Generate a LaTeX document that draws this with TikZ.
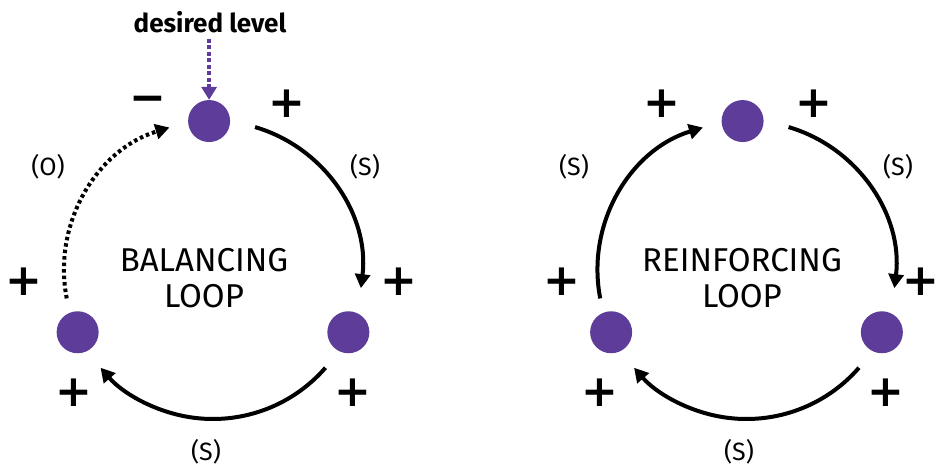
\documentclass[tikz,border=0pt]{standalone}
\usepackage{fontspec}
\setmainfont{Fira Sans}
\newfontfamily\symf{DejaVu Sans}
\usetikzlibrary{arrows.meta}
\definecolor{loopviolet}{RGB}{94,60,153}
\tikzset{
  var/.style={circle,fill=loopviolet,minimum size=42pt,inner sep=0pt},
  sign/.style={inner sep=0pt,font=\symf\bfseries\fontsize{44}{44}\selectfont},
  paren/.style={inner sep=0pt,font=\fontsize{25}{27}\selectfont},
  title/.style={inner sep=0pt,align=center,font=\fontsize{33}{36}\selectfont},
  link/.style={line width=4pt,-{Triangle[length=14pt,width=15pt]}},
  olink/.style={link,dash pattern=on 3.5pt off 3pt},
}
\begin{document}
\begin{tikzpicture}[x=1pt,y=1pt]
\useasboundingbox (0,0) rectangle (938,469);
% ---------- balancing loop ----------
\coordinate (cL) at (213,199);
\node[var] (L1) at ([shift={(91.5:149pt)}]cL) {};
\node[var] (L2) at ([shift={(-24.7:149pt)}]cL) {};
\node[var] (L3) at ([shift={(204.7:149pt)}]cL) {};
\draw[link] ([shift={(73.6:149pt)}]cL) arc[start angle=73.6,end angle=-7,radius=149pt];
\draw[link] ([shift={(-41:149pt)}]cL) arc[start angle=-41,end angle=-139,radius=149pt];
\draw[olink] ([shift={(191:149pt)}]cL) arc[start angle=191,end angle=107,radius=149pt];
\node[inner sep=0pt,font=\bfseries\fontsize{26}{28}\selectfont] (des) at (210,447) {desired level};
\draw[loopviolet,line width=3.5pt,dash pattern=on 4pt off 2.5pt,-{Triangle[length=13pt,width=15pt]}] (des.south -| L1) ++(0,-6) coordinate (dtop) -- (L1.north);
\node[sign] at (148,365) {−};
\node[sign] at (287,365) {+};
\node[paren] at (48,302) {(O)};
\node[paren] at (365,302) {(S)};
\node[title] at (204,191) {BALANCING\\LOOP};
\node[sign] at (24,187) {+};
\node[sign] at (399,187) {+};
\node[sign] at (74,76) {+};
\node[sign] at (353,76) {+};
\node[paren] at (206,17) {(S)};
% ---------- reinforcing loop ----------
\coordinate (cR) at (746.5,199);
\node[var] (R1) at ([shift={(91.5:149pt)}]cR) {};
\node[var] (R2) at ([shift={(-24.7:149pt)}]cR) {};
\node[var] (R3) at ([shift={(204.7:149pt)}]cR) {};
\draw[link] ([shift={(73.6:149pt)}]cR) arc[start angle=73.6,end angle=-7,radius=149pt];
\draw[link] ([shift={(-41:149pt)}]cR) arc[start angle=-41,end angle=-139,radius=149pt];
\draw[link] ([shift={(191:149pt)}]cR) arc[start angle=191,end angle=107,radius=149pt];
\node[sign] at (662,365) {+};
\node[sign] at (814,365) {+};
\node[paren] at (574,302) {(S)};
\node[paren] at (898,302) {(S)};
\node[title] at (742,191) {REINFORCING\\LOOP};
\node[sign] at (562,187) {+};
\node[sign,inner xsep=-4pt] at (921,187) {+};
\node[sign] at (600,76) {+};
\node[sign] at (886,76) {+};
\node[paren] at (739,17) {(S)};
\end{tikzpicture}
\end{document}
